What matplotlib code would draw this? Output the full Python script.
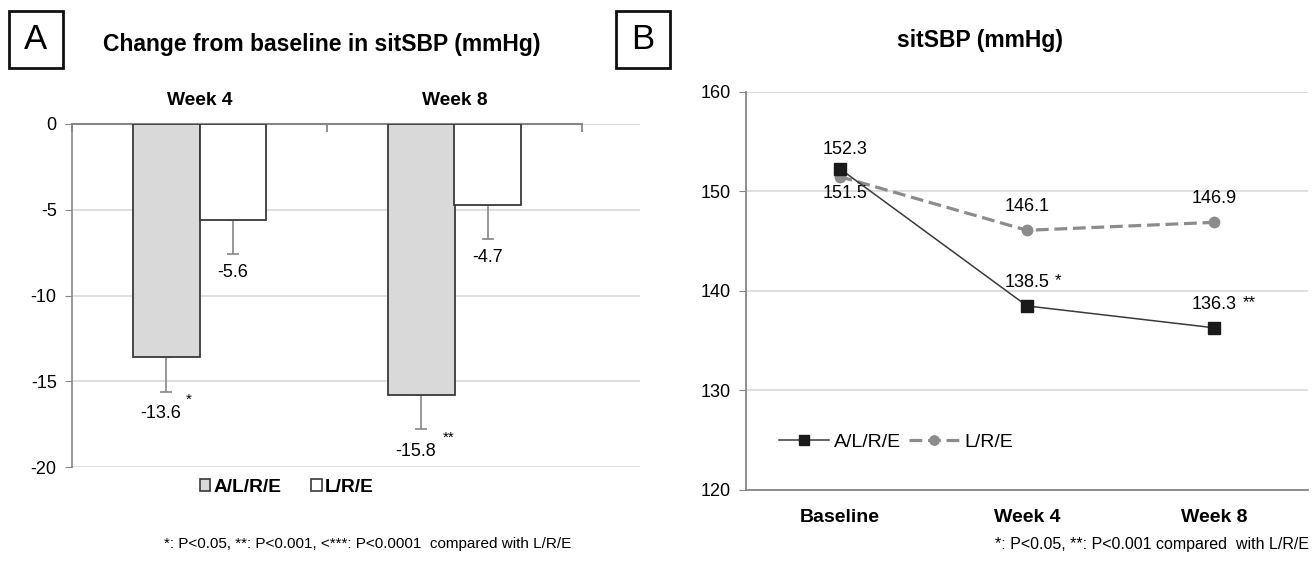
import numpy as np
import matplotlib as mpl
import matplotlib.pyplot as plt
from matplotlib.patches import Rectangle

mpl.rcParams['font.family'] = ['Liberation Sans', 'DejaVu Sans']
mpl.rcParams['axes.unicode_minus'] = False

# Panel A data: change from baseline in sitSBP
weeks = ['Week 4', 'Week 8']
groups = ['A/L/R/E', 'L/R/E']
chg_alre = [-13.6, -15.8]
chg_lre = [-5.6, -4.7]
err_alre = [2.0, 2.0]
err_lre = [2.0, 2.0]
sig_alre = ['*', '**']

# Panel B data: sitSBP over time
visits = ['Baseline', 'Week 4', 'Week 8']
sbp_alre = [152.3, 138.5, 136.3]
sbp_lre = [151.5, 146.1, 146.9]
sig_b_alre = ['', '*', '**']

W, H = 1312, 568
fig = plt.figure(figsize=(W / 100, H / 100), dpi=100)


def ax_rect(x0, y0, x1, y1):
    return [x0 / W, 1 - y1 / H, (x1 - x0) / W, (y1 - y0) / H]


def panel_box(letter, x0, y0, x1, y1):
    fig.patches.append(Rectangle((x0 / W, 1 - y1 / H), (x1 - x0) / W, (y1 - y0) / H,
                                 transform=fig.transFigure, facecolor='white',
                                 edgecolor='#111111', lw=2.0))
    fig.text((x0 + x1) / 2 / W, 1 - (y0 + y1) / 2 / H, letter, ha='center', va='center',
             fontsize=25)


grid_c = '#d9d9d9'
axis_c = '#868686'
edge_c = '#3a3a3a'

#
# Panel A
#
axA = fig.add_axes(ax_rect(72, 124, 640, 467))
x = np.arange(len(weeks))
bw = 0.26
axA.bar(x - bw / 2, chg_alre, bw, color='#d9d9d9', edgecolor=edge_c, lw=1.3, zorder=3)
axA.bar(x + bw / 2, chg_lre, bw, color='white', edgecolor=edge_c, lw=1.3, zorder=3)
axA.errorbar(x - bw / 2, chg_alre, yerr=[err_alre, [0, 0]], fmt='none',
             ecolor=axis_c, elinewidth=1.2, capsize=4, capthick=1.2, zorder=2)
axA.errorbar(x + bw / 2, chg_lre, yerr=[err_lre, [0, 0]], fmt='none',
             ecolor=axis_c, elinewidth=1.2, capsize=4, capthick=1.2, zorder=2)

for i in range(len(weeks)):
    ylab = chg_alre[i] - err_alre[i]
    axA.annotate('%.1f' % chg_alre[i], (x[i] - bw / 2, ylab), xytext=(-4, -10),
                 textcoords='offset points', ha='center', va='top', fontsize=13)
    axA.annotate(sig_alre[i], (x[i] - bw / 2, ylab), xytext=(12 + 4 * len(sig_alre[i]), -1),
                 textcoords='offset points', ha='center', va='top', fontsize=11)
    ylab = chg_lre[i] - err_lre[i]
    axA.annotate('%.1f' % chg_lre[i], (x[i] + bw / 2, ylab), xytext=(0, -7),
                 textcoords='offset points', ha='center', va='top', fontsize=13)

axA.set_ylim(-20, 0)
axA.set_xlim(-0.5, 1.5 + 58 / 255)
axA.set_yticks(np.arange(-20, 1, 5))
axA.yaxis.grid(True, color=grid_c, lw=1.2)
axA.set_axisbelow(True)
axA.tick_params(axis='y', direction='out', length=5, color=axis_c, labelsize=13, pad=6)
axA.xaxis.tick_top()
axA.set_xticks([-0.5, 0.5, 1.5])
axA.set_xticklabels([])
axA.set_xticks(x, minor=True)
axA.set_xticklabels(weeks, minor=True, fontweight='bold', fontsize=13.8)
axA.tick_params(axis='x', which='major', direction='in', length=6, color=axis_c, width=1.3)
axA.tick_params(axis='x', which='minor', length=0, pad=11)
for s in ['right', 'bottom']:
    axA.spines[s].set_visible(False)
axA.spines['left'].set_color(axis_c)
axA.spines['left'].set_linewidth(1.2)
axA.spines['top'].set_color(axis_c)
axA.spines['top'].set_linewidth(1.5)
axA.spines['top'].set_bounds(-0.5, 1.5)

hA = [Rectangle((0, 0), 1, 1, facecolor='#d9d9d9', edgecolor=edge_c, lw=1.2),
      Rectangle((0, 0), 1, 1, facecolor='white', edgecolor=edge_c, lw=1.2)]
axA.legend(hA, groups, loc='upper left', bbox_to_anchor=(0.215, -0.018), ncol=2,
           frameon=False, handlelength=0.55, handleheight=0.55, handletextpad=0.15,
           columnspacing=1.55, borderaxespad=0, borderpad=0.3,
           prop={'size': 13.8, 'weight': 'bold'})

fig.text(322 / W, 1 - 45 / H, 'Change from baseline in sitSBP (mmHg)',
         ha='center', va='center', fontsize=16.5, fontweight='bold')
panel_box('A', 9, 11, 63, 68)
fig.text(368 / W, 1 - 544 / H, '*: P<0.05, **: P<0.001, <***: P<0.0001  compared with L/R/E',
         ha='center', va='center', fontsize=11)

#
# Panel B
#
axB = fig.add_axes(ax_rect(746, 92, 1308, 490))
xb = np.arange(len(visits))
l1, = axB.plot(xb, sbp_alre, color='#3a3a3a', lw=1.1, marker='s', ms=8,
               markerfacecolor='#1a1a1a', markeredgecolor='#1a1a1a', zorder=4)
l2, = axB.plot(xb, sbp_lre, color='#8c8c8c', lw=2.3, ls=(0, (4, 1.8)), marker='o', ms=7.5,
               markerfacecolor='#8c8c8c', markeredgecolor='#8c8c8c', zorder=3)

# value labels: A/L/R/E above at baseline, L/R/E below at baseline
axB.annotate('%.1f' % sbp_alre[0], (xb[0], sbp_alre[0]), xytext=(4, 8),
             textcoords='offset points', ha='center', va='bottom', fontsize=13)
axB.annotate('%.1f' % sbp_lre[0], (xb[0], sbp_lre[0]), xytext=(4, -6),
             textcoords='offset points', ha='center', va='top', fontsize=13)
for i in range(1, len(visits)):
    axB.annotate('%.1f' % sbp_lre[i], (xb[i], sbp_lre[i]), xytext=(0, 11),
                 textcoords='offset points', ha='center', va='bottom', fontsize=13)
    axB.annotate('%.1f' % sbp_alre[i], (xb[i], sbp_alre[i]), xytext=(0, 11),
                 textcoords='offset points', ha='center', va='bottom', fontsize=13)
    axB.annotate(sig_b_alre[i], (xb[i], sbp_alre[i]), xytext=(19 + 3 * len(sig_b_alre[i]), 13),
                 textcoords='offset points', ha='center', va='bottom', fontsize=12)

axB.set_ylim(120, 160)
axB.set_xlim(-0.5, 2.5)
axB.set_yticks(np.arange(120, 161, 10))
axB.yaxis.grid(True, color=grid_c, lw=1.2)
axB.set_axisbelow(True)
axB.set_xticks(xb)
axB.set_xticklabels(visits, fontweight='bold', fontsize=14)
axB.tick_params(axis='x', length=0, pad=14)
axB.tick_params(axis='y', direction='out', length=5, color=axis_c, labelsize=13, pad=6)
for s in ['right', 'top']:
    axB.spines[s].set_visible(False)
for s in ['left', 'bottom']:
    axB.spines[s].set_color(axis_c)
    axB.spines[s].set_linewidth(1.3)

axB.legend([l1, l2], groups, loc='center left', bbox_to_anchor=(0.058, 0.12), ncol=2,
           frameon=False, handlelength=2.6, handletextpad=0.25, columnspacing=0.4,
           borderaxespad=0, borderpad=0, markerscale=0.9, prop={'size': 14})

fig.text(980 / W, 1 - 40 / H, 'sitSBP (mmHg)', ha='center', va='center',
         fontsize=16.5, fontweight='bold')
panel_box('B', 616, 11, 670, 68)
fig.text(1309 / W, 1 - 544 / H, '*: P<0.05, **: P<0.001 compared  with L/R/E',
         ha='right', va='center', fontsize=11.5)

fig.savefig('out.png', dpi=100)
